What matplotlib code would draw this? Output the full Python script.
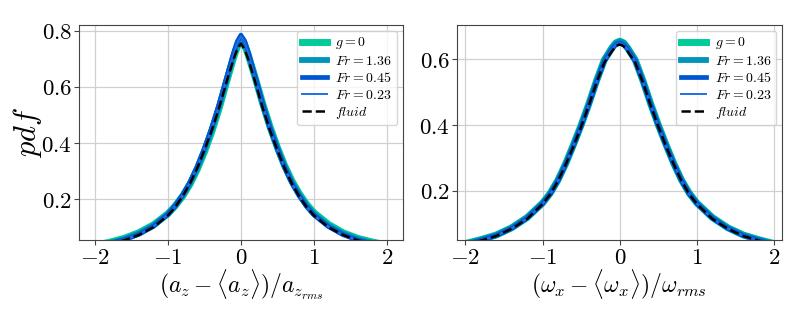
import matplotlib
matplotlib.use("Agg")
import matplotlib.pyplot as plt
from matplotlib.ticker import FuncFormatter, MultipleLocator

plt.rcParams['mathtext.fontset'] = 'cm'
plt.rcParams['font.family'] = 'serif'
plt.rcParams['font.serif'] = ['DejaVu Serif']

# x positions (normalised fluctuation), shared by every curve
x = [-2.0, -1.8, -1.6, -1.4, -1.2, -1.0, -0.9, -0.8, -0.7, -0.6, -0.5, -0.4, -0.3, -0.2, -0.1, -0.05,
     0.0, 0.05, 0.1, 0.2, 0.3, 0.4, 0.5, 0.6, 0.7, 0.8, 0.9, 1.0, 1.2, 1.4, 1.6, 1.8, 2.0]

labels = ['$g=0$', '$Fr=1.36$', '$Fr=0.45$', '$Fr=0.23$']

# left panel: pdf of a_z
az_g0 = [0.035, 0.046, 0.060, 0.080, 0.108, 0.148, 0.176, 0.210, 0.252, 0.305, 0.368, 0.440, 0.522, 0.615, 0.705, 0.742,
         0.765, 0.750, 0.715, 0.630, 0.540, 0.458, 0.385, 0.320, 0.265, 0.220, 0.182, 0.152, 0.110, 0.080, 0.060, 0.047, 0.036]
az_fr136 = [0.033, 0.044, 0.057, 0.077, 0.105, 0.147, 0.176, 0.212, 0.256, 0.310, 0.375, 0.448, 0.530, 0.622, 0.714, 0.752,
            0.775, 0.758, 0.720, 0.630, 0.538, 0.455, 0.382, 0.316, 0.260, 0.215, 0.178, 0.147, 0.105, 0.077, 0.057, 0.044, 0.033]
az_fr045 = [0.032, 0.042, 0.055, 0.074, 0.103, 0.146, 0.176, 0.214, 0.260, 0.316, 0.382, 0.455, 0.538, 0.630, 0.722, 0.762,
            0.785, 0.765, 0.725, 0.632, 0.538, 0.452, 0.380, 0.313, 0.257, 0.212, 0.174, 0.144, 0.102, 0.073, 0.054, 0.041, 0.031]
az_fr023 = [0.032, 0.042, 0.055, 0.074, 0.102, 0.145, 0.175, 0.213, 0.259, 0.315, 0.380, 0.452, 0.535, 0.626, 0.718, 0.758,
            0.780, 0.760, 0.720, 0.628, 0.535, 0.450, 0.378, 0.312, 0.256, 0.211, 0.173, 0.143, 0.101, 0.072, 0.053, 0.040, 0.030]
az_fluid = [0.030, 0.040, 0.053, 0.072, 0.100, 0.142, 0.172, 0.210, 0.255, 0.310, 0.375, 0.445, 0.525, 0.615, 0.700, 0.735,
            0.755, 0.735, 0.700, 0.615, 0.525, 0.445, 0.375, 0.310, 0.255, 0.210, 0.172, 0.142, 0.100, 0.072, 0.053, 0.040, 0.030]

# right panel: pdf of omega_x
wx_g0 = [0.040, 0.052, 0.066, 0.088, 0.119, 0.163, 0.193, 0.233, 0.283, 0.340, 0.400, 0.465, 0.535, 0.598, 0.635, 0.650,
         0.655, 0.650, 0.635, 0.598, 0.535, 0.465, 0.400, 0.340, 0.283, 0.233, 0.193, 0.163, 0.119, 0.088, 0.066, 0.052, 0.040]
wx_fr136 = [0.040, 0.052, 0.066, 0.088, 0.119, 0.163, 0.193, 0.233, 0.283, 0.340, 0.400, 0.465, 0.535, 0.598, 0.636, 0.650,
            0.655, 0.650, 0.636, 0.598, 0.535, 0.465, 0.400, 0.340, 0.283, 0.233, 0.193, 0.163, 0.119, 0.088, 0.066, 0.052, 0.040]
wx_fr045 = [0.038, 0.050, 0.064, 0.086, 0.117, 0.161, 0.191, 0.231, 0.281, 0.337, 0.397, 0.462, 0.532, 0.594, 0.631, 0.645,
            0.650, 0.645, 0.631, 0.594, 0.532, 0.462, 0.397, 0.337, 0.281, 0.231, 0.191, 0.161, 0.117, 0.086, 0.064, 0.050, 0.038]
wx_fr023 = [0.038, 0.050, 0.064, 0.086, 0.117, 0.161, 0.191, 0.231, 0.281, 0.337, 0.397, 0.462, 0.532, 0.594, 0.631, 0.645,
            0.650, 0.645, 0.631, 0.594, 0.532, 0.462, 0.397, 0.337, 0.281, 0.231, 0.191, 0.161, 0.117, 0.086, 0.064, 0.050, 0.038]
wx_fluid = [0.037, 0.049, 0.063, 0.085, 0.115, 0.160, 0.190, 0.230, 0.280, 0.335, 0.395, 0.460, 0.530, 0.590, 0.625, 0.640,
            0.645, 0.640, 0.625, 0.590, 0.530, 0.460, 0.395, 0.335, 0.280, 0.230, 0.190, 0.160, 0.115, 0.085, 0.063, 0.049, 0.037]

colors = ['#00cc99', '#0095b8', '#0055d0', '#1f6fe8']
widths = [5.0, 4.2, 3.4, 1.4]

fig = plt.figure(figsize=(8.07, 3.17), dpi=100)
ax1 = fig.add_axes([0.098, 0.243, 0.401, 0.678])
ax2 = fig.add_axes([0.566, 0.243, 0.403, 0.678])

tex = FuncFormatter(lambda v, p: '$%g$' % v if abs(v) > 1e-9 else '$0$')

panels = [
    (ax1, [az_g0, az_fr136, az_fr045, az_fr023], az_fluid, r'$(a_z - \langle a_z \rangle)/a_{z_{rms}}$', (-2.22, 2.22), (0.054, 0.821)),
    (ax2, [wx_g0, wx_fr136, wx_fr045, wx_fr023], wx_fluid, r'$(\omega_x - \langle \omega_x \rangle)/\omega_{rms}$', (-2.11, 2.10), (0.051, 0.704)),
]

for ax, series, fluid, xl, xlim, ylim in panels:
    for ys, c, w, lab in zip(series, colors, widths, labels):
        ax.plot(x, ys, color=c, lw=w, label=lab)
    ax.plot(x, fluid, 'k--', lw=1.8, label='$fluid$')
    ax.set_xlim(*xlim)
    ax.set_ylim(*ylim)
    ax.xaxis.set_major_locator(MultipleLocator(1))
    ax.yaxis.set_major_locator(MultipleLocator(0.2))
    ax.xaxis.set_major_formatter(tex)
    ax.yaxis.set_major_formatter(tex)
    ax.tick_params(labelsize=16.5, color='#444444', pad=1.5)
    ax.grid(True, color='#d0d0d0', lw=0.9)
    ax.set_axisbelow(True)
    for s in ax.spines.values():
        s.set_color('#444444')
    ax.set_xlabel(xl, fontsize=17, labelpad=-1)
    ax.legend(loc='upper right', fontsize=10, handlelength=1.8, framealpha=0.8,
              borderpad=0.35, labelspacing=0.2, handletextpad=0.6, borderaxespad=0.4)

ax1.set_ylabel('$pdf$', fontsize=22, labelpad=-2)

fig.savefig('out.png', dpi=100)
